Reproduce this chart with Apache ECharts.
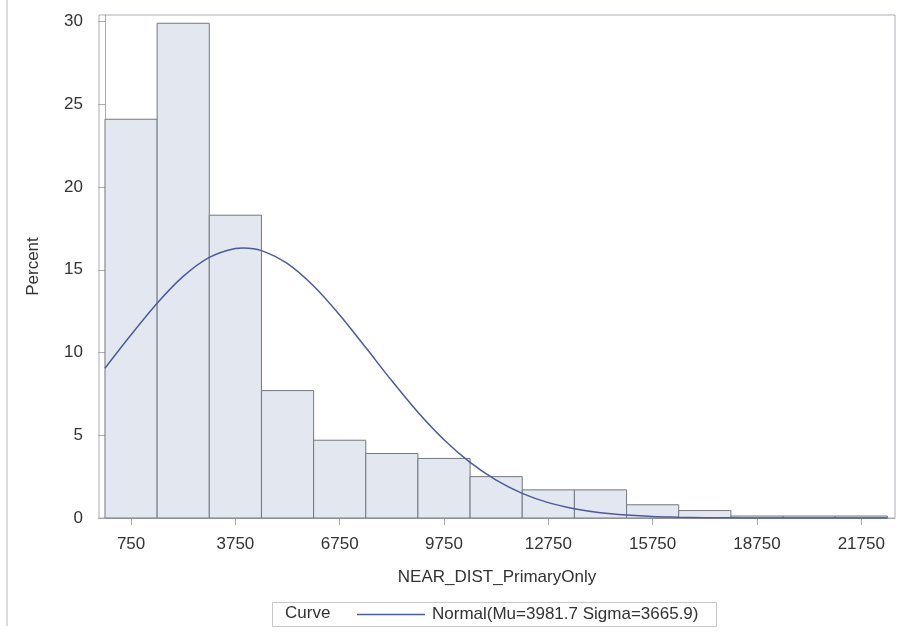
<!DOCTYPE html>
<html lang="en">
<head>
    <meta charset="UTF-8">
    <title>NEAR_DIST_PrimaryOnly histogram</title>
    <script src="https://cdn.jsdelivr.net/npm/echarts@6/dist/echarts.min.js"></script>
    <style>
        html, body { margin: 0; padding: 0; background: #fff; }
        #container { width: 902px; height: 634px; }
    </style>
</head>
<body>
    <div id="container"></div>
    <script>
        // histogram bins (midpoints), width 1500
        var binMid = [750, 2250, 3750, 5250, 6750, 8250, 9750, 11250, 12750, 14250, 15750, 17250, 18750, 20250, 21750];
        var binWidth = 1500;
        var percent = [24.1, 29.9, 18.3, 7.7, 4.7, 3.9, 3.6, 2.5, 1.7, 1.7, 0.8, 0.45, 0.12, 0.12, 0.12];

        // normal curve (peak near mu)
        var curveX = [0, 750, 1500, 2250, 3000, 3750, 3982, 4500, 5250, 6000, 6750, 7500, 8250, 9000, 9750, 10500,
            11250, 12000, 12750, 13500, 14250, 15000, 15750, 16500, 17250, 18000, 18750, 19500, 20250, 21000, 21750, 22500];
        var curveY = [9.05, 11.07, 12.98, 14.6, 15.75, 16.29, 16.32, 16.16, 15.37, 14.02, 12.27, 10.3, 8.29, 6.39, 4.73, 3.36,
            2.29, 1.49, 0.93, 0.56, 0.32, 0.18, 0.09, 0.05, 0.02, 0.01, 0.005, 0.002, 0.001, 0, 0, 0];

        var xTicks = [750, 3750, 6750, 9750, 12750, 15750, 18750, 21750];
        var curveName = 'Normal(Mu=3981.7 Sigma=3665.9)';

        var font = '"Liberation Sans", Arial, sans-serif';
        var fontSize = 17;
        var gridColor = '#a9adb2';

        var barData = binMid.map(function (m, i) {
            return [m - binWidth / 2, m + binWidth / 2, percent[i]];
        });
        var lineData = curveX.map(function (x, i) { return [x, curveY[i]]; });

        var myChart = echarts.init(document.getElementById('container'));
        myChart.setOption({
            backgroundColor: '#fff',
            animation: false,
            grid: {
                left: 99, right: 7, top: 15, bottom: 116,
                show: true, borderColor: gridColor, borderWidth: 1, backgroundColor: 'transparent'
            },
            xAxis: {
                type: 'value',
                min: -172,
                max: 22720,
                name: 'NEAR_DIST_PrimaryOnly',
                nameLocation: 'middle',
                nameGap: 51,
                nameTextStyle: { fontFamily: font, fontSize: fontSize, color: '#333' },
                splitLine: { show: false },
                axisLine: { show: true, lineStyle: { color: gridColor } },
                axisTick: { show: true, length: 7, customValues: xTicks, lineStyle: { color: gridColor } },
                axisLabel: {
                    customValues: xTicks, margin: 18,
                    formatter: function (v) { return String(v); },
                    fontFamily: font, fontSize: fontSize, color: '#333'
                }
            },
            yAxis: {
                type: 'value',
                min: 0,
                max: 30.4,
                interval: 5,
                name: 'Percent',
                nameLocation: 'middle',
                nameGap: 57,
                nameTextStyle: { fontFamily: font, fontSize: fontSize, color: '#333' },
                splitLine: { show: false },
                axisLine: { show: true, lineStyle: { color: gridColor } },
                axisTick: { show: true, length: 7, lineStyle: { color: gridColor } },
                axisLabel: {
                    showMaxLabel: false, margin: 16,
                    fontFamily: font, fontSize: fontSize, color: '#333'
                }
            },
            legend: {
                data: [curveName],
                left: 357,
                top: 606,
                padding: 0,
                icon: 'rect',
                itemWidth: 68,
                itemHeight: 1.5,
                itemGap: 0,
                textStyle: { fontFamily: font, fontSize: fontSize, color: '#333', padding: [0, 0, 0, 2] }
            },
            graphic: [
                { type: 'line', shape: { x1: 7, y1: 0, x2: 7, y2: 626 }, style: { stroke: '#dcdcdc', lineWidth: 2 } },
                { type: 'rect', shape: { x: 272.5, y: 602.5, width: 444, height: 24 }, style: { fill: 'none', stroke: '#c8c8c8', lineWidth: 1 } },
                { type: 'text', left: 285, top: 605, style: { text: 'Curve', font: fontSize + 'px ' + font, fill: '#333' } }
            ],
            series: [
                {
                    type: 'custom',
                    name: 'Percent',
                    data: barData,
                    encode: { x: [0, 1], y: 2 },
                    renderItem: function (params, api) {
                        var p0 = api.coord([api.value(0), 0]);
                        var p1 = api.coord([api.value(1), api.value(2)]);
                        return {
                            type: 'rect',
                            shape: { x: p0[0], y: p1[1], width: p1[0] - p0[0], height: p0[1] - p1[1] },
                            style: { fill: '#e3e7f0', stroke: '#75787e', lineWidth: 1 }
                        };
                    },
                    z: 2
                },
                {
                    type: 'line',
                    name: curveName,
                    data: lineData,
                    smooth: 0.3,
                    showSymbol: false,
                    symbol: 'none',
                    lineStyle: { color: '#4c5a9e', width: 1.5 },
                    itemStyle: { color: '#4c5a9e' },
                    z: 3
                }
            ]
        });
    </script>
</body>
</html>
